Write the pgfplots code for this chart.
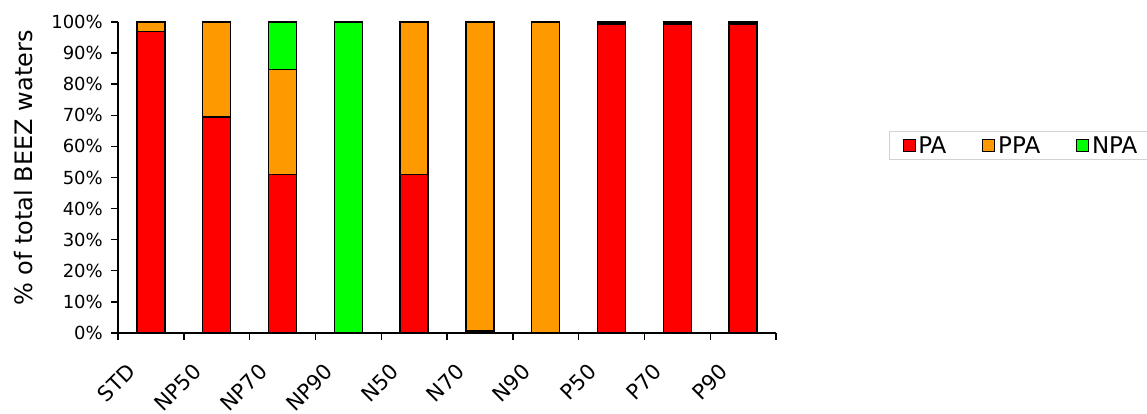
\documentclass[border=0pt]{standalone}
\usepackage{fontspec}
\setmainfont{DejaVu Sans}
\usepackage{pgfplots}
\pgfplotsset{compat=1.18}
\definecolor{paRed}{RGB}{255,0,0}
\definecolor{ppaOrange}{RGB}{255,153,0}
\definecolor{npaGreen}{RGB}{0,255,0}
\begin{document}
\begin{tikzpicture}
\useasboundingbox (0,0) rectangle (1147pt,414pt);
\begin{axis}[
  at={(118pt,81pt)}, anchor=south west,
  scale only axis, width=658pt, height=311pt,
  ybar stacked, bar width=28pt,
  xmin=-0.5, xmax=9.5, ymin=0, ymax=100,
  axis x line*=bottom, axis y line*=left,
  axis line style={line width=1.6pt, -},
  xtick={-0.5,0.5,...,9.5},
  xticklabels={STD,NP50,NP70,NP90,N50,N70,N90,P50,P70,P90},
  x tick label as interval,
  ytick={0,10,...,100},
  yticklabel={\pgfmathprintnumber{\tick}\%},
  /pgf/number format/assume math mode=true,
  tick align=outside, major tick length=7pt,
  tick style={line width=1.4pt, black},
  yticklabel style={font=\fontsize{18}{20}\selectfont, inner sep=0pt, anchor=east, xshift=-8pt},
  xticklabel style={xshift=-25pt, yshift=-22pt, font=\fontsize{21}{24}\selectfont, rotate=45, anchor=north east, inner sep=0pt},
  ylabel={\% of total BEEZ waters},
  ylabel style={font=\fontsize{24}{28}\selectfont, at={(axis description cs:-0.143,0.53)}, anchor=center},
  legend columns=3,
  legend style={at={(axis description cs:1.1717,0.6495)}, anchor=north west,
    draw=gray!35, line width=1pt, font=\fontsize{23}{26}\selectfont,
    /tikz/every even column/.append style={column sep=33pt},
    nodes={inner xsep=3pt, inner ysep=2pt},
    inner xsep=13pt, inner ysep=3pt},
  legend image code/.code={\draw[#1,line width=0.8pt,draw=black] (0pt,-6pt) rectangle (12pt,6pt);},
  every axis plot/.append style={draw=black, line width=1.5pt},
]
\addplot[fill=paRed] coordinates {(0,97) (1,69.5) (2,51) (3,0) (4,51) (5,0.6) (6,0) (7,99.4) (8,99.4) (9,99.4)};
\addplot[fill=ppaOrange] coordinates {(0,3) (1,30.5) (2,33.7) (3,0) (4,49) (5,99.4) (6,100) (7,0.6) (8,0.6) (9,0.6)};
\addplot[fill=npaGreen] coordinates {(0,0) (1,0) (2,15.3) (3,100) (4,0) (5,0) (6,0) (7,0) (8,0) (9,0)};
\legend{PA,PPA,NPA}
\end{axis}
\end{tikzpicture}
\end{document}
